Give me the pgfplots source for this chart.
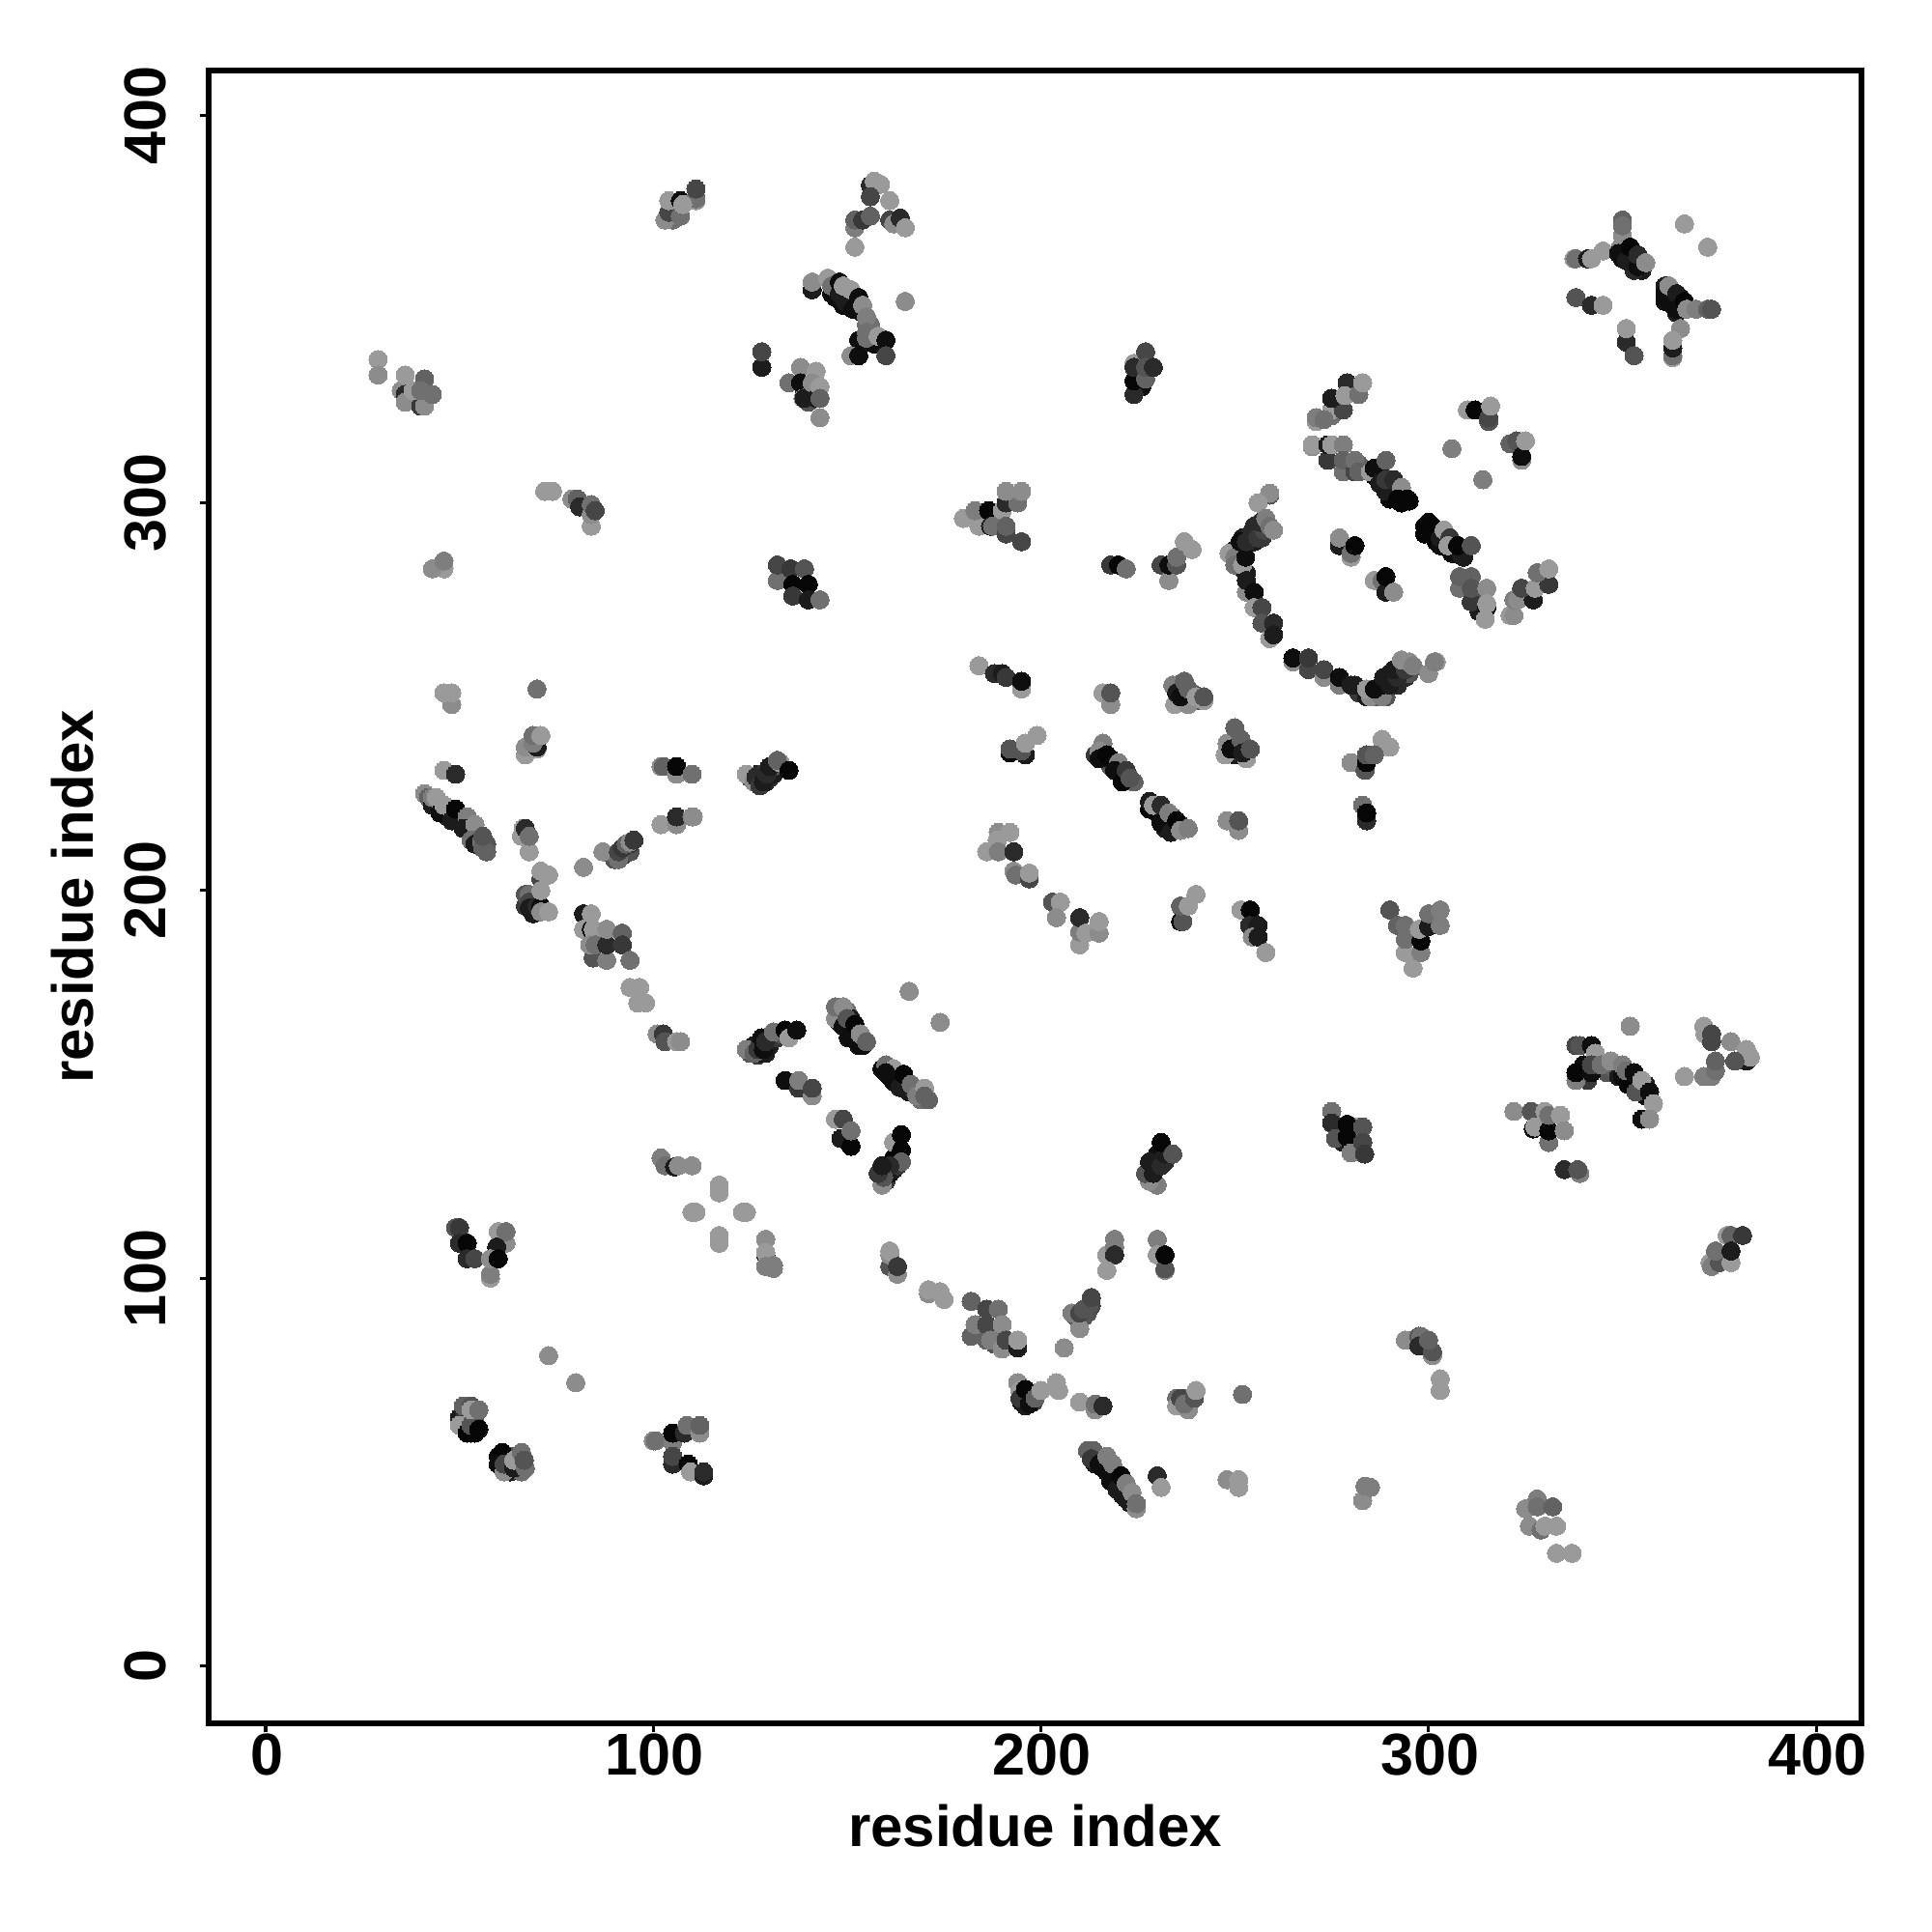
\documentclass[border=0pt]{standalone}
\usepackage{pgfplots}
\usepackage{fontspec}
\setmainfont{Liberation Sans}
\pgfplotsset{compat=1.18}
\pgfplotstableread[row sep=\\]{
x y g\\
214 235 .2\\ 216 234 .1\\ 218 232 .3\\ 218 234 .05\\ 220 231 .1\\ 221 230 .3\\ 222 229 .05\\ 224 228 .35\\
229 221 .1\\ 230 220 .05\\ 232 219 .2\\ 232 216 .1\\ 234 217 .3\\ 234 219 .3\\ 236 217 .2\\
250 238 .2\\ 250 235 .1\\ 251 236 .3\\ 252 237 .3\\ 253 236 .2\\
235 253 .3\\ 236 252 .15\\ 237 252 .05\\ 237 250 .2\\ 238 250 .1\\ 239 251 .3\\ 240 249 .3\\ 241 250 .3\\
282 251 .2\\ 284 250 .1\\ 286 250 .3\\ 287 251 .05\\ 289 252 .1\\ 289 250 .3\\ 291 254 .05\\ 292 253 .15\\ 293 255 .1\\ 294 255 .15\\ 295 256 .3\\
250 288 .1\\ 251 287 .15\\ 252 288 .1\\ 252 291 .1\\ 254 290 .1\\ 254 292 .15\\ 255 290 .1\\ 256 293 .15\\ 257 291 .2\\ 258 294 .25\\ 252 283 .1\\ 253 282 .1\\
286 307 .05\\ 287 307 .1\\ 288 305 .05\\ 288 307 .1\\ 290 304 .1\\ 290 302 .02\\ 291 304 .05\\ 292 303 .1\\ 293 302 .02\\ 291 301 .05\\ 290 301 .02\\ 293 300 .02\\ 295 300.5 .02\\ 282 310 .35\\
299 294 .02\\ 299 292 .02\\ 301 294 .05\\ 302 292 .05\\ 302 290 .02\\ 303 289 .05\\ 304 291 .15\\ 306 290 .1\\ 306 287 .05\\ 307 287 .05\\ 308 288 .1\\ 309 286 .1\\
350 366 .1\\ 350 363 .05\\ 351 365 .05\\ 352 364 .05\\ 352 362 .05\\ 353 363 .1\\ 355 362 .1\\ 355 360 .1\\ 353 360 .15\\
361 356 .1\\ 362 354 .05\\ 362 352 .05\\ 363 353 .05\\ 365 351 .05\\ 365 353 .05\\ 363 351 .1\\ 364 349 .1\\
146 354 .05\\ 147 353 .05\\ 149 351 .05\\ 150 353 .1\\ 151 352 .05\\ 152 352 .1\\ 154 349 .1\\ 155 346 .4\\ 156 346 .4\\ 156 344 .4\\ 154 341 .1\\ 157 341 .05\\
44 222 .1\\ 46 220 .1\\ 47 219 .1\\ 47 221 .05\\ 48 220 .05\\ 50 218 .1\\ 51 219 .3\\ 52 216 .1\\ 53 216 .3\\ 55 214 .3\\ 57 212 .3\\ 57 210 .35\\ 54 214 .1\\
67 196 .2\\ 69 194 .1\\ 69 197 .1\\ 67 199 .3\\ 90 208 .3\\ 92 209 .2\\ 94 210 .3\\ 94 212 .2\\
125 229 .3\\ 127 230 .1\\ 127 228 .1\\ 128 230 .2\\ 129 228 .1\\ 130 229 .15\\ 130 231 .1\\ 131 230 .1\\ 131 232 .3\\
125 158 .3\\ 127 157.5 .2\\ 128 158 .05\\ 129 158 .1\\ 130 160 .1\\ 130 162 .1\\ 132 162 .2\\ 126 160 .1\\ 127 160 .1\\ 133 163 .3\\
148 169 .2\\ 148 166 .1\\ 149 167 .3\\ 150 169 .4\\ 151 164 .05\\ 151 167 .1\\ 152 162 .05\\ 152 164 .05\\ 154 160 .05\\ 154 162 .1\\
159 154 .05\\ 161 152 .05\\ 163 153 .02\\ 165 151 .02\\ 163 151 .05\\ 165 149 .1\\ 166 148 .1\\ 167 149 .4\\ 169 146 .4\\ 171 146 .35\\
160 127 .1\\ 160 125 .2\\ 161 127 .05\\ 162 128 .1\\ 163 131 .1\\ 162 131 .02\\ 163 129 .2\\
229 129 .1\\ 230 130 .05\\ 230 132 .05\\ 232 130 .15\\ 277 139 .1\\ 277 137 .05\\ 278 135 .1\\ 280 135 .02\\ 281 136 .3\\
346 153 .3\\ 348 154 .35\\ 349 152 .1\\ 351 151 .05\\ 352 150 .05\\ 353 151 .1\\ 354 150 .1\\ 355 148 .05\\ 356 147 .05\\ 356 150 .1\\ 340 155 .05\\ 341 151 .2\\
214 52 .1\\ 216 51 .05\\ 216 52 .1\\ 217 50 .05\\ 219 47 .05\\ 220 46 .1\\ 221 46 .1\\ 221 44 .1\\ 223 42 .1\\ 222 45 .3\\
50 64 .1\\ 52 62 .1\\ 52 64 .2\\ 54 60 .02\\ 53 60 .02\\ 54 63 .3\\ 60 54 .05\\ 62 54 .1\\ 62 52 .05\\ 63 50 .1\\ 65 52 .3\\ 65 54 .3\\ 63 54 .3\\ 66 50 .4\\
104 375 .2\\ 105 373 .4\\ 225 333 .1\\ 226 330 .05\\ 139 329 .1\\ 141 328 .4\\ 142 330 .4\\ 140 326 .3\\
184 86 .4\\ 188 86 .35\\ 188 83 .3\\ 185 85 .3\\ 192 83 .2\\ 195 68 .05\\ 196 68 .1\\ 197 70 .02\\ 196 67 .1\\ 198 68 .2\\
209 90 .3\\ 211 90 .3\\ 212 91 .3\\ 213 93 .25\\ 296 84 .4\\ 299 83 .2\\ 235 69 .4\\ 238 69 .35\\ 310 279 .3\\ 312 276 .3\\ 313 272 .1\\
29 337 .55\\ 29 333 .5\\ 35 329 .5\\ 36 328 .15\\ 36 326 .5\\ 36 333 .55\\ 40 325 .2\\ 41 325 .5\\ 38 329 .55\\ 41 332 .35\\ 40 329 .4\\ 43 328 .4\\
103 373 .5\\ 104 375 .25\\ 107 374 .4\\ 104 378 .55\\ 107 378 .05\\ 111 378 .55\\ 111 378.5 .4\\ 107.6 377 .55\\ 111 381 .25\\
156 382 .15\\ 157 383 .55\\ 158.6 382.2 .55\\ 156 379 .25\\ 161 378 .55\\ 152 371 .45\\ 152 373 .35\\ 154 373 .2\\ 156 374 .35\\ 161 373 .25\\ 162 372 .5\\ 152 366 .55\\ 163.7 373.5 .15\\ 165 371 .55\\ 165 352 .5\\
141 355 .1\\ 141 357 .5\\ 145 358 .55\\ 146 356 .4\\ 148 354 .1\\ 148 357 .05\\ 149.5 352 .1\\ 149 356 .55\\ 151.5 350 .05\\ 151 355 .55\\ 153 353 .05\\ 154 351 .5\\ 155 348 .45\\ 153 342 .05\\ 155 344 .4\\ 155 342.5 .4\\ 158 343 .55\\ 160 342 .05\\ 151 338 .5\\ 153 338 .05\\ 160 338 .25\\
128 335 .1\\ 128 339 .25\\ 135 331 .4\\ 138 335 .5\\ 142 334 .55\\ 138 331 .05\\ 138.6 327 .55\\ 138.9 327 .1\\ 141 331 .5\\ 142 327 .1\\ 143 330 .55\\ 143 322 .5\\ 143 327 .35\\
72 303 .55\\ 74 303 .55\\ 79 301 .5\\ 80.4 301 .35\\ 81 299 .15\\ 84 294 .55\\ 84 297 .5\\ 84 299.6 .4\\ 85 298 .25\\
46 283 .55\\ 43 283 .5\\ 46 285 .45\\
132 280 .4\\ 132 284 .25\\ 135.5 283 .2\\ 139 283 .3\\ 136 279 .02\\ 140 279 .02\\ 136 276 .2\\ 140 275 .1\\ 143 275 .4\\
224 328 .15\\ 224 331.5 .02\\ 224 336 .55\\ 224 335 .15\\ 227 332 .35\\ 227 339 .25\\ 227 335 .3\\ 229 335 .15\\
180 296 .55\\ 184 294 .55\\ 183 298 .45\\ 186.5 298 .02\\ 190 298 .55\\ 187 294 .1\\ 187.5 294 .4\\ 191 300 .15\\ 194 300 .4\\ 191 303 .5\\ 195 303 .5\\ 191 292 .25\\ 191 294 .35\\ 195 290 .25\\
218 284 .2\\ 220 284 .02\\ 222 283 .4\\ 231 284 .25\\ 233 280 .5\\ 233 284 .05\\ 235 284 .3\\ 235 286 .4\\ 237 290 .55\\ 239 288 .55\\
259 302 .3\\ 259 302.5 .5\\ 256 300 .55\\ 248.5 287 .55\\ 250 286 .45\\ 250 284 .4\\ 252 284 .55\\ 251.4 290 .05\\ 252.8 286 .05\\ 253 290 .15\\ 255 292 .15\\ 255 294 .15\\ 256 291 .2\\ 257.5 293 .25\\ 256.6 295 .15\\ 258 296 .45\\ 259 294 .4\\ 260 293 .5\\
253 277 .5\\ 253 280 .1\\ 255 277 .05\\ 255 273 .55\\ 257 273 .25\\ 257 269 .3\\ 260 269 .15\\ 259 265 .55\\ 260 266 .1\\
265 259 .5\\ 265 260 .05\\ 269 257 .25\\ 269 260 .2\\ 273 255 .5\\ 273 257 .25\\ 277 253 .45\\ 277 255 .05\\ 280 253 .1\\ 281 253 .1\\ 285 250 .5\\ 288 250 .45\\ 284 252 .55\\ 286 252 .05\\ 288 253 .05\\ 288.4 255 .1\\ 290 253 .1\\ 290 256 .1\\ 292 255 .15\\ 291 257 .1\\ 294 257 .2\\ 293 259.5 .5\\ 295 259 .5\\ 296 258 .45\\ 300 256 .5\\ 302 259 .55\\ 301.5 259 .45\\
275 322.5 .4\\ 275 324 .55\\ 278 324 .25\\ 275 327 .1\\ 279 331 .15\\ 278.4 327.7 .55\\ 282 328 .4\\ 283 331 .55\\ 271 321 .55\\ 271 322 .45\\ 273 321.5 .4\\
270 314.5 .5\\ 270 315 .55\\ 274 311 .2\\ 274 315 .1\\ 275 315 .55\\ 278 315 .45\\ 278 308 .4\\ 278 311 .35\\ 281 308 .25\\ 281 311 .4\\ 282 308 .35\\ 285 308 .55\\ 286 309 .05\\ 287.4 305 .1\\ 289 303 .1\\ 289 306 .2\\ 291 306 .15\\ 289 311 .35\\ 293 304 .5\\ 292 301 .02\\ 294.6 301 .02\\
306 314 .45\\ 314 306 .45\\ 310 324 .55\\ 312 324 .02\\ 315.5 321 .3\\ 315.5 322 .25\\ 316 325 .55\\ 321 315.3 .35\\ 322.7 316 .3\\ 324 311 .5\\ 324 312 .05\\ 325 316 .55\\
300 293 .02\\ 301 292 .02\\ 300 295 .02\\ 303 291 .1\\ 304 293 .55\\ 305.5 291 .2\\ 304.6 288.6 .05\\ 305 289 .55\\ 308.4 286.7 .1\\ 307.5 289 .02\\ 311 289 .3\\
308 278 .4\\ 308 281 .35\\ 311 281 .35\\ 311 274.5 .2\\ 311 278 .3\\ 315 273 .05\\ 315 278 .5\\ 315 274 .55\\ 314.6 270 .55\\
321 271 .55\\ 322 271 .5\\ 322 275 .45\\ 323 275 .5\\ 327 275 .1\\ 324 278 .25\\ 327.5 278 .55\\ 331 279 .2\\ 328 282 .4\\ 331 283 .55\\
277 289 .1\\ 277 291 .5\\ 280 286 .55\\ 280 287 .4\\ 281 289 .02\\ 286 280 .55\\ 288 280 .4\\ 289 277 .1\\ 289 281 .02\\ 291 277 .5\\
337.5 363 .55\\ 338 363 .4\\ 341 363 .1\\ 342 363 .55\\ 345 365 .55\\ 350 373 .35\\ 350 369 .5\\ 350 371.5 .4\\ 349.5 366 .5\\ 349 364.4 .05\\ 351 362.5 .1\\ 354 361 .05\\ 352 366 .02\\ 354 364 .15\\ 356 362 .5\\ 366 372 .55\\ 372 366 .55\\ 338 353 .3\\ 342 351 .15\\ 345 351 .55\\
361 352 .05\\ 361 354 .05\\ 362 356 .5\\ 364 354 .1\\ 364 350 .05\\ 366 352 .02\\ 366.6 350 .5\\ 369 350 .45\\ 372 350 .35\\ 373 350 .3\\ 365 345 .5\\ 363 337.5 .55\\ 363 338 .4\\ 363 340 .1\\ 363 342 .55\\ 351 341.5 .15\\ 351 345 .55\\ 353 338 .3\\
48 248 .5\\ 46 251 .55\\ 48 251 .55\\ 70 252 .4\\ 67 235 .55\\ 67 237 .5\\ 70 236.5 .55\\ 70 237 .1\\ 69 238 .45\\ 69 240 .4\\ 71 240 .55\\ 46 231 .55\\ 49 230 .15\\
41 225 .5\\ 42 224 .35\\ 43 222 .1\\ 43 224 .45\\ 44 224 .55\\ 45 220 .05\\ 46 222 .55\\ 48 218 .1\\ 49 221 .02\\ 52 219 .45\\ 51 216 .1\\ 54 217 .5\\ 53 213 .4\\ 54 212 .1\\ 55.7 212.6 .4\\ 56 211 .35\\ 56 214 .3\\
66.4 216 .55\\ 66 214 .55\\ 67 216 .15\\ 68 210 .55\\ 68 214 .4\\ 71 203 .25\\ 71 205 .55\\ 73 204 .55\\ 68 199 .4\\ 68 197 .25\\ 68 195.5 .1\\ 70 196 .15\\ 71 196 .05\\ 71 200 .55\\ 71 194.5 .5\\ 73 194.5 .55\\
82 206 .5\\ 87 210 .5\\ 91 208 .4\\ 91 210 .25\\ 92 211 .2\\ 93 212 .35\\ 94 212.5 .5\\ 95 213 .2\\ 102 217 .55\\ 106 217 .5\\ 106 219 .15\\ 110 219 .45\\ 110.3 219 .5\\ 102 232 .5\\ 102.6 232 .35\\ 106 230 .5\\ 106 232 .02\\ 110 230 .4\\
124 230 .55\\ 126 228 .5\\ 126.5 229.3 .15\\ 127.5 227 .2\\ 128.4 228 .1\\ 129.3 230 .15\\ 130 232 .1\\ 132.7 233 .55\\ 132 233.6 .35\\ 135 231 .02\\
82 194 .1\\ 82 190 .55\\ 84 190 .05\\ 84.5 190 .55\\ 84 194 .55\\ 84.5 182.6 .3\\ 83.6 186 .5\\ 85 186 .4\\ 88 182 .45\\ 88 186 .15\\ 88 190 .5\\ 92 189 .35\\ 92 186 .2\\ 94 182 .4\\
94 175 .55\\ 96.5 175 .55\\ 96 171 .55\\ 98 171 .55\\ 101 163 .5\\ 102.6 163 .2\\ 103 161 .3\\ 106 161 .55\\ 107 161 .5\\
124 159 .45\\ 126 158 .35\\ 127 159 .2\\ 128 162 .05\\ 128.4 159 .05\\ 129 161 .15\\ 131 163.5 .4\\ 134 164 .02\\ 135 162 .55\\ 137 164 .05\\
147 167 .5\\ 147 170 .4\\ 149 170 .5\\ 149 165 .05\\ 150 167 .3\\ 150.3 162 .05\\ 152 165.5 .02\\ 153 160 .05\\ 153.4 163 .5\\ 155 161 .35\\ 166 174 .5\\ 174 166 .5\\
160 155 .4\\ 162 154 .55\\ 160 153 .05\\ 162 150.7 .05\\ 163.6 149.2 .1\\ 164.6 152.6 .02\\ 166.5 150 .4\\ 168 147 .45\\ 170 149 .55\\ 170 147 .35\\
134 151 .05\\ 137.5 149 .2\\ 137.5 151 .45\\ 141 147 .5\\ 141 149 .25\\ 147 141 .55\\ 149 141 .25\\ 148.4 136 .1\\ 151 134 .02\\ 151 138 .4\\
162 135 .55\\ 164 137 .02\\ 164 133 .02\\ 164 130 .35\\ 161 129 .15\\ 159 124 .5\\ 159.4 126 .3\\ 158 127 .2\\ 159 129 .1\\
102 131 .45\\ 103 129 .4\\ 105.5 128.7 .1\\ 106.5 129 .5\\ 110 129 .5\\
117 122 .55\\ 117 124 .55\\ 110 117 .55\\ 111 117 .55\\ 123 117 .55\\ 124 117 .55\\ 117 109 .55\\ 117 111 .55\\ 129 110 .5\\ 129 106 .1\\ 129 106.6 .55\\ 129 103 .45\\ 131 102.5 .45\\ 131 103.3 .45\\
49 113 .3\\ 50 113 .2\\ 50 109 .15\\ 52 109 .02\\ 52 105 .15\\ 54 105 .25\\ 60 112 .55\\ 62 109 .5\\ 62 112 .4\\ 59.6 108 .1\\ 58 100 .55\\ 58 101 .45\\ 58 105 .5\\ 60 105 .02\\
73 80 .5\\ 80 73 .5\\
51 63 .2\\ 50 62 .55\\ 52 60 .02\\ 53 62 .3\\ 55 61 .02\\ 51 67 .35\\ 53 67 .3\\ 53 66 .55\\ 55 66 .4\\
61 55 .02\\ 60 52 .05\\ 61.5 50 .5\\ 61.5 52 .25\\ 64 51 .1\\ 64 53 .55\\ 66 55 .4\\ 67 51 .4\\ 66.7 53 .3\\
100 58 .5\\ 100.6 58 .4\\ 105 57.6 .45\\ 105 60 .02\\ 108 60 .15\\ 108.7 62 .4\\ 112 60 .5\\ 112 62 .35\\ 105 52 .15\\ 105 54 .25\\ 109 52 .02\\ 109.6 50 .55\\ 113 49 .1\\ 113 50 .15\\
161 103 .3\\ 161 106 .5\\ 161 107 .55\\ 163 101 .5\\ 163 103 .2\\ 171 96 .5\\ 171 97 .55\\ 174 96.5 .55\\ 175 94.5 .55\\
182 94 .35\\ 186 92 .25\\ 189 92 .4\\ 182 85 .35\\ 183 88 .45\\ 186 84 .35\\ 186 88 .25\\ 187 84 .45\\ 190 88 .5\\ 190 81.7 .5\\ 191 84 .25\\ 194 82 .1\\ 194 84 .55\\
206 82 .5\\ 210 87 .5\\ 208 91 .45\\ 210 91 .25\\ 211 92 .3\\ 212.4 93 .3\\ 213 95 .25\\
219 110 .45\\ 217 106 .55\\ 219 108 .45\\ 219 106 .15\\ 217 102 .55\\ 230 110 .45\\ 230 106 .55\\ 232 102 .5\\ 232 102.4 .3\\ 232 106 .02\\
294 84 .5\\ 297.5 85 .3\\ 298 85 .4\\ 297.5 82.5 .15\\ 301 80 .5\\ 301 81 .3\\ 300 84 .35\\ 303 74 .55\\ 303 71 .55\\
194 73 .5\\ 194.6 71 .55\\ 194.6 69 .2\\ 196 71.3 .02\\ 197 67.5 .05\\ 198.5 69 .35\\ 200 71 .55\\ 204 73 .55\\ 204.6 71 .55\\
210 68 .55\\ 214 66 .5\\ 214 67.5 .4\\ 216 67 .15\\ 235 67 .55\\ 238 66 .5\\ 236 69 .25\\ 237 67.5 .4\\ 239.6 69 .3\\ 240 71 .55\\ 252 70 .4\\
212 55.5 .35\\ 213.5 55.5 .35\\ 213 53.4 .2\\ 215 52 .05\\ 217 54 .45\\ 218 47.6 .05\\ 218.5 52 .45\\ 219.6 45.5 .1\\ 220.7 49 .02\\ 222 43 .1\\ 222 47 .45\\ 223.5 44.7 .5\\ 224.6 40.5 .5\\ 224.6 41.8 .4\\
230 49 .15\\ 231 46 .55\\ 248 48 .5\\ 251 46 .55\\ 251 48 .55\\ 283 42.6 .5\\ 283.6 46.3 .45\\ 285 46 .45\\
325 40.5 .5\\ 328 43 .45\\ 328 41 .4\\ 332 41 .35\\ 326 36 .5\\ 329 35 .4\\ 330 36 .55\\ 333 36 .55\\ 333 29 .55\\ 337 29 .55\\
184 258 .55\\ 188 256 .15\\ 190 256 .1\\ 191 255 .2\\ 195 252 .55\\ 195 254 .05\\ 216 251 .55\\ 218 248 .5\\ 218 251 .3\\
234.5 248 .55\\ 238 248 .5\\ 234 253 .45\\ 235 251 .1\\ 236 250 .05\\ 237 254 .35\\ 238 252 .35\\ 240 250 .55\\ 242 249 .55\\ 242 250 .3\\
247.5 235 .55\\ 248 238 .5\\ 250 242 .35\\ 249 236.5 .05\\ 251.6 239 .35\\ 253 234 .55\\ 252 235.5 .1\\ 254 236.5 .3\\
192 235.5 .02\\ 192 236.5 .3\\ 196 235 .1\\ 195 236 .3\\ 196 238 .55\\ 199 240 .55\\
216 238 .45\\ 215 236 .5\\ 215 234 .05\\ 217 235 .02\\ 220 233 .45\\ 219 231 .05\\ 221 228 .02\\ 222 231 .2\\ 223 229 .3\\
228 221 .02\\ 228 223 .1\\ 229 222 .55\\ 231 222 .15\\ 231 217.4 .05\\ 233 220 .45\\ 233.5 215 .1\\ 235 218 .02\\ 236 215.5 .5\\ 238 216 .45\\
248 218 .5\\ 251 215.5 .5\\ 251 218 .3\\ 283 222 .4\\ 284 218 .15\\ 284 220 .02\\ 288 239 .55\\ 290 237 .55\\ 280 233 .5\\ 283.6 231 .3\\ 284 233 .02\\ 284 235 .3\\ 286 235 .35\\
189 215 .5\\ 192 215 .55\\ 186 210 .55\\ 188.7 213 .55\\ 189 210 .45\\ 193 210 .15\\ 193 205 .5\\ 193.5 204 .4\\ 197 203 .25\\ 197 204.5 .55\\ 203 197 .3\\ 205 197 .55\\ 204 193 .5\\
210 186 .55\\ 210 189.3 .45\\ 210 193 .15\\ 211.6 189 .55\\ 215 189 .5\\ 215 192 .55\\ 236 192 .05\\ 236.6 192 .3\\ 236 196 .35\\ 238 196 .55\\ 240 199 .55\\
251.6 195 .55\\ 254 195 .02\\ 253.8 191 .15\\ 256 191 .1\\ 254.5 188 .5\\ 256 188 .1\\ 258 184 .55\\
290 195 .3\\ 292 191 .35\\ 294 184 .55\\ 294 187.4 .4\\ 294 191 .4\\ 296 180 .55\\ 298 184 .45\\ 298 187 .02\\ 297.6 190 .55\\ 300 190.7 .1\\ 300 194 .4\\ 303 191 .45\\ 303 195 .45\\
230 124 .45\\ 228 125 .5\\ 227 127 .3\\ 229 127 .1\\ 228 130 .1\\ 231 129 .15\\ 232 132 .1\\ 231 135 .02\\ 234 132 .3\\
275 143 .4\\ 275 140 .15\\ 276 136 .3\\ 281 139 .55\\ 279 139.7 .02\\ 279 136.4 .02\\ 280 132.3 .45\\ 283 139 .3\\ 283 135 .25\\ 283.5 132 .2\\
352 165 .5\\ 338 160 .25\\ 339 160 .3\\ 342 160 .05\\ 343 158 .55\\ 338 151 .45\\ 338 153 .02\\ 342 153 .05\\ 342 155 .25\\ 344.5 155 .4\\ 347 156 .5\\ 350 152 .05\\ 350 155 .45\\ 351.4 150 .02\\ 351 153.5 .4\\ 353 153 .05\\ 353.5 148 .3\\ 355 151 .55\\ 357 148 .05\\ 355 141 .05\\ 358 145 .55\\ 357 141 .5\\
322 143 .5\\ 326.5 143 .3\\ 327 138.5 .05\\ 327.4 139 .55\\ 331 135 .4\\ 331 138 .02\\ 330 143 .55\\ 331 142 .4\\ 334 142 .55\\ 335 138 .5\\ 335 128 .15\\ 339 127 .45\\ 338.5 128 .3\\
371 165 .55\\ 371.3 163 .55\\ 373 161 .25\\ 373 163 .25\\ 378 161 .5\\ 382 156 .1\\ 382 159 .55\\ 383 157 .55\\ 379 156 .3\\ 366 152 .55\\ 371 152 .45\\ 373 152 .45\\ 374 153.5 .4\\ 374 156 .35\\
372.6 104 .55\\ 373 103 .45\\ 375 104 .3\\ 374 107 .4\\ 377 111 .55\\ 378 111 .35\\ 381 111 .2\\ 378 104 .55\\ 378 107 .1\\
}\points
\begin{document}
\begin{tikzpicture}
\path[use as bounding box] (-77.76pt,-77.76pt) rectangle (642.24pt,642.24pt);
\begin{axis}[
  at={(0pt,0pt)}, anchor=south west,
  scale only axis, width=616pt, height=616pt,
  xmin=-14.7, xmax=411.7, ymin=-14.88, ymax=411.6,
  axis line style={line width=2pt},
  axis lines=box,
  xtick={0,100,200,300,400}, ytick={0,100,200,300,400},
  xticklabels={0,100,200,300,400}, yticklabels={0,100,200,300,400},
  tick pos=left, tick align=outside,
  major tick length=3.3pt,
  every tick/.style={black,line width=1.1pt},
  xticklabel style={font=\fontsize{22}{24}\selectfont\bfseries, inner sep=0pt, outer sep=0pt, anchor=north, xshift=0.5pt},
  yticklabel style={font=\fontsize{22}{24}\selectfont\bfseries, rotate=90, inner sep=0pt, outer sep=0pt, anchor=south},
  xticklabel shift=0.5pt, yticklabel shift=12.6pt,
  xlabel={residue index}, ylabel={residue index},
  xlabel style={font=\fontsize{21.6}{24}\selectfont\bfseries, at={(rel axis cs:0.5,0)}, anchor=base, inner sep=0pt, yshift=-45.8pt},
  ylabel style={font=\fontsize{21.6}{24}\selectfont\bfseries, at={(rel axis cs:0,0.5)}, anchor=base, inner sep=0pt, yshift=43pt},
  colormap={bw}{gray(0cm)=(0); gray(1cm)=(1)},
  point meta min=0, point meta max=0.92,
  clip=false,
]
\addplot[scatter, only marks, mark=*, mark size=3.4pt, scatter src=explicit,
  scatter/use mapped color={draw=mapped color, fill=mapped color},
  mark options={line width=0pt}]
  table[x=x,y=y,meta=g] {\points};
\end{axis}
\end{tikzpicture}
\end{document}
